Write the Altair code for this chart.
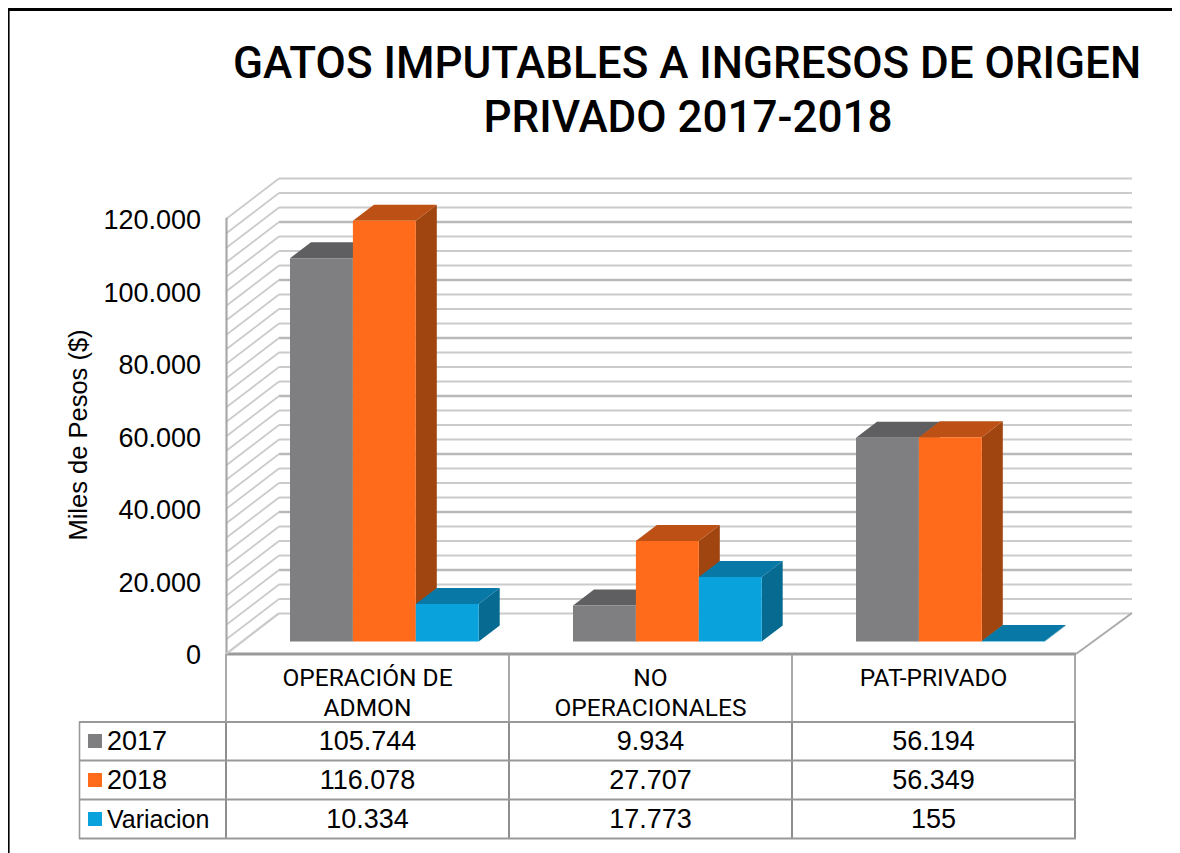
import altair as alt
import pandas as pd

# ---- data ----
categories = [["OPERACIÓN DE", "ADMON"], ["NO", "OPERACIONALES"], ["PAT-PRIVADO"]]
series_names = ["2017", "2018", "Variacion"]
values_2017 = [105744, 9934, 56194]
values_2018 = [116078, 27707, 56349]
values_var = [10334, 17773, 155]
tick_values = [0, 20000, 40000, 60000, 80000, 100000, 120000]
title_lines = ["GATOS IMPUTABLES A INGRESOS DE ORIGEN", "PRIVADO 2017-2018"]
y_title = "Miles de Pesos ($)"

front = ["#7F7F81", "#FF6B1A", "#0AA2DC"]
top = ["#5F5F61", "#BD5014", "#0879A6"]
side = ["#58585A", "#A04510", "#066A91"]

W, H = 1164, 845
PAGE = 8
CW = 283.0          # px of one category
X0 = 226.0          # page px of category 0 left edge
Y0 = 654.0          # page px of value 0 on the front plane
K = 0.003625        # px per unit


def xu(px):
    return (px - X0) / CW


def yu(py):
    return (Y0 - py) / K


x_scale = alt.Scale(domain=[xu(PAGE), xu(PAGE + W)], range=[0, W], nice=False, zero=False)
y_scale = alt.Scale(domain=[yu(PAGE + H), yu(PAGE)], range=[H, 0], nice=False, zero=False)

X = alt.X("x:Q", scale=x_scale, axis=None)
Y = alt.Y("y:Q", scale=y_scale, axis=None)
X2 = alt.X2("x2:Q")
Y2 = alt.Y2("y2:Q")

GAP = 64 / CW
BAR = 62.9 / CW
DX = 21 / CW
DY = 16 / K
BASE = 12.5 / K
WALL_X = 53 / CW
WALL_Y = 40.5 / K
STEP = 4000

rows_front, rows_side, rows_top = [], [], []
for j, vals in enumerate([values_2017, values_2018, values_var]):
    for i, v in enumerate(vals):
        x0 = i + GAP + j * BAR
        x1 = x0 + BAR
        b = BASE
        t = v + BASE
        key = f"{i}-{j}"
        rows_front.append(dict(x=x0, x2=x1, y=t, y2=b, c=front[j]))
        rows_side += [
            dict(x=x1, y=t, y2=b, id=key, c=side[j]),
            dict(x=x1 + DX, y=t + DY, y2=b + DY, id=key, c=side[j]),
        ]
        rows_top += [
            dict(x=x0, y=t, y2=t, id=key, c=top[j]),
            dict(x=x0 + DX, y=t + DY, y2=t, id=key, c=top[j]),
            dict(x=x1, y=t + DY, y2=t, id=key, c=top[j]),
            dict(x=x1 + DX, y=t + DY, y2=t + DY, id=key, c=top[j]),
        ]

grid_back, grid_side = [], []
for n in range(31):
    v = n * STEP
    heavy = n % 4 == 3
    grid_back.append(dict(x=WALL_X, x2=xu(1132), y=v + WALL_Y, y2=v + WALL_Y,
                          c="#B9B9B9" if heavy else "#CBCBCB", w=2.6 if heavy else 2.0))
    grid_side.append(dict(x=0, x2=WALL_X, y=v, y2=v + WALL_Y, c="#CBCBCB", w=1.8))


def rules(df):
    return alt.Chart(pd.DataFrame(df)).mark_rule().encode(
        x=X, x2=X2, y=Y, y2=Y2,
        color=alt.Color("c:N", scale=None, legend=None),
        strokeWidth=alt.StrokeWidth("w:Q", scale=None, legend=None),
    )


# frame, axes and table lines (page px converted to the chart's scales)
def seg(x1, y1, x2, y2, c, w):
    return dict(x=xu(x1), x2=xu(x2), y=yu(y1), y2=yu(y2), c=c, w=w)


lines = [
    seg(8, 9.5, 1172, 9.5, "#000000", 3),
    seg(8.8, 8, 8.8, 853, "#000000", 1.6),
    seg(226.5, 218, 226.5, 654, "#A8A8A8", 2.2),
    seg(226, 654, 1076, 654, "#9A9A9A", 3),
    seg(1076, 654, 1132, 613, "#ABABAB", 2),
    seg(226, 654, 279, 613, "#CBCBCB", 2),
]
for px in [226, 509, 792, 1075]:
    lines.append(seg(px, 654, px, 722, "#A0A0A0", 1.8))
    lines.append(seg(px, 722, px, 839, "#8E8E8E", 2))
lines.append(seg(79.5, 722, 79.5, 839, "#999999", 1.6))
for py in [722, 760.5, 799.5, 838.5]:
    lines.append(seg(79, py, 1076, py, "#999999", 2))

swatches = []
for j, py in enumerate([741, 780, 819]):
    swatches.append(dict(x=xu(88), x2=xu(102), y=yu(py - 7), y2=yu(py + 7), c=front[j]))


def area(rows):
    return alt.Chart(pd.DataFrame(rows)).mark_area(interpolate="linear").encode(
        x=X, y=Y, y2=Y2, detail="id:N",
        color=alt.Color("c:N", scale=None, legend=None),
    )


def rects(rows):
    return alt.Chart(pd.DataFrame(rows)).mark_rect().encode(
        x=X, x2=X2, y=Y, y2=Y2,
        color=alt.Color("c:N", scale=None, legend=None),
    )


def fmt(n):
    return f"{n:,}".replace(",", ".")


SANS = "Liberation Sans"
NARROW = "Roboto"


def texts(rows, font, size, align="center", angle=0, weight="normal", dy=0):
    kw = dict(font=font, fontSize=size, align=align, baseline="middle", color="#000000", fontWeight=weight)
    if angle:
        kw["angle"] = angle
    if dy:
        kw["dy"] = dy
    return alt.Chart(pd.DataFrame(rows)).mark_text(**kw).encode(x=X, y=Y, text="t:N")


tick_rows = [dict(x=xu(201), y=v, t=fmt(v)) for v in tick_values]
title_rows = [dict(x=xu(687), y=yu(64.5), t=title_lines[0]), dict(x=xu(688), y=yu(118.5), t=title_lines[1])]
ytitle_rows = [dict(x=xu(79), y=yu(435), t=y_title)]
cat_rows = []
for i, ls in enumerate(categories):
    for n, s in enumerate(ls):
        cat_rows.append(dict(x=i + 0.5, y=yu(679 + 30 * n), t=s))
cell_rows = []
for j, (vals, py) in enumerate(zip([values_2017, values_2018, values_var], [742, 781, 820])):
    for i, v in enumerate(vals):
        cell_rows.append(dict(x=i + 0.5, y=yu(py), t=fmt(v)))
legend_rows = [dict(x=xu(107), y=yu(py), t=s) for s, py in zip(series_names[:2], [742, 781])]
legend_rows3 = [dict(x=xu(107), y=yu(820), t=series_names[2])]

chart = alt.layer(
    rules(grid_back),
    rules(grid_side),
    rules(lines),
    area(rows_side),
    area(rows_top),
    rects(rows_front),
    rects(swatches),
    texts(title_rows, NARROW, 44, weight=500),
    texts(tick_rows, SANS, 27, align="right", dy=2),
    texts(ytitle_rows, SANS, 25.5, angle=270),
    texts(cat_rows, NARROW, 24.5),
    texts(cell_rows, SANS, 27),
    texts(legend_rows, SANS, 27, align="left"),
    texts(legend_rows3, SANS, 25, align="left"),
).properties(
    width=W, height=H, padding=0,
    autosize=alt.AutoSizeParams(type="none"),
    background="#FFFFFF",
).configure_view(stroke=None)

chart.save("out.html", embed_options={"renderer": "svg", "actions": False})
